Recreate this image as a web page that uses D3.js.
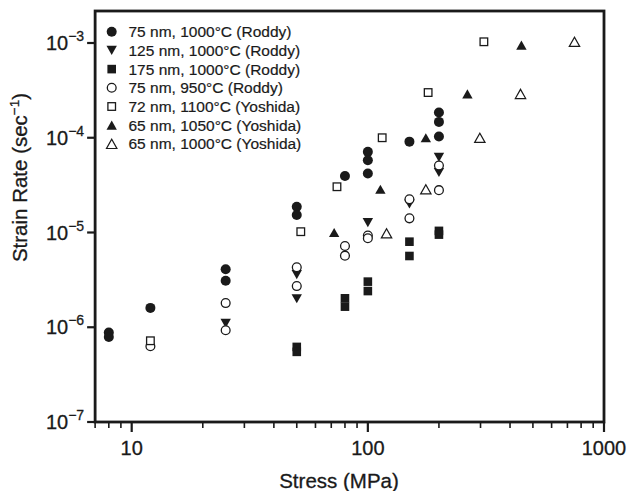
<!DOCTYPE html>
<html>
<head>
<meta charset="utf-8">
<script src="https://cdn.jsdelivr.net/npm/d3@7"></script>
<style>
  html, body { margin: 0; padding: 0; background: #fff; }
  svg { display: block; font-family: "Liberation Sans", Arial, sans-serif; }
</style>
</head>
<body>
<svg id="chart" width="628" height="491"></svg>
<script>
// Creep data: stress (MPa) vs. strain rate (1/s), log-log
const seriesLabels = [
  "75 nm, 1000°C (Roddy)",
  "125 nm, 1000°C (Roddy)",
  "175 nm, 1000°C (Roddy)",
  "75 nm, 950°C (Roddy)",
  "72 nm, 1100°C (Yoshida)",
  "65 nm, 1050°C (Yoshida)",
  "65 nm, 1000°C (Yoshida)"
];
const seriesSymbols = ["circleFilled", "downFilled", "squareFilled", "circleOpen", "squareOpen", "upFilled", "upOpen"];

const stress75_1000 = [8, 8, 12, 25, 25, 50, 50, 80, 100, 100, 100, 150, 200, 200, 200];
const rate75_1000 = [0.88e-6, 0.79e-6, 1.6e-6, 4.1e-6, 3.1e-6, 1.87e-5, 1.53e-5, 3.95e-5, 7.1e-5, 5.8e-5, 4.2e-5, 9.1e-5, 1.85e-4, 1.47e-4, 1.03e-4];

const stress125_1000 = [25, 50, 50, 100, 150, 200, 200];
const rate125_1000 = [1.1e-6, 3.6e-6, 2.0e-6, 1.27e-5, 2.0e-5, 6.2e-5, 4.3e-5];

const stress175_1000 = [50, 50, 80, 80, 100, 100, 150, 150, 200, 200];
const rate175_1000 = [0.62e-6, 0.55e-6, 2.02e-6, 1.65e-6, 3.03e-6, 2.41e-6, 8.0e-6, 5.65e-6, 1.04e-5, 0.95e-5];

const stress75_950 = [12, 25, 25, 50, 50, 80, 80, 100, 100, 150, 150, 200, 200];
const rate75_950 = [0.63e-6, 1.8e-6, 0.93e-6, 4.3e-6, 2.72e-6, 7.2e-6, 5.7e-6, 9.3e-6, 8.7e-6, 2.24e-5, 1.41e-5, 5.1e-5, 2.8e-5];

const stress72_1100 = [12, 52, 74, 115, 180, 310];
const rate72_1100 = [0.72e-6, 1.02e-5, 3.04e-5, 1.0e-4, 3.0e-4, 1.03e-3];

const stress65_1050 = [72, 113, 176, 264, 447];
const rate65_1050 = [1.0e-5, 2.86e-5, 1.0e-4, 2.9e-4, 9.5e-4];

const stress65_1000 = [120, 176, 298, 443, 750];
const rate65_1000 = [9.8e-6, 2.86e-5, 1.0e-4, 2.9e-4, 1.03e-3];

const xMajorTicks = [10, 100, 1000];
const xTickLabels = ["10", "100", "1000"];
const xMinorTicks = [7, 8, 9, 20, 30, 40, 50, 60, 70, 80, 90, 200, 300, 400, 500, 600, 700, 800, 900];
const yMajorTicks = [1e-7, 1e-6, 1e-5, 1e-4, 1e-3];
const yTickExponents = ["−7", "−6", "−5", "−4", "−3"];

const seriesStress = [stress75_1000, stress125_1000, stress175_1000, stress75_950, stress72_1100, stress65_1050, stress65_1000];
const seriesRate = [rate75_1000, rate125_1000, rate175_1000, rate75_950, rate72_1100, rate65_1050, rate65_1000];

const ink = "#1a1a1a";
const svg = d3.select("#chart");

const x = d3.scaleLog().domain([10, 1000]).range([131.7, 604]);
const y = d3.scaleLog().domain([1e-7, 1e-3]).range([422, 43]);

const frameLeft = x(7), frameRight = x(1000), frameBottom = y(1e-7), frameTop = 11;

// marker shapes, each centred on its bounding box
function drawSymbol(g, kind, cx, cy) {
  if (kind === "circleFilled") {
    g.append("circle").attr("cx", cx).attr("cy", cy).attr("r", 5).attr("fill", ink);
  } else if (kind === "circleOpen") {
    g.append("circle").attr("cx", cx).attr("cy", cy).attr("r", 4.4)
      .attr("fill", "#fff").attr("stroke", ink).attr("stroke-width", 1.3);
  } else if (kind === "squareFilled") {
    g.append("rect").attr("x", cx - 4.3).attr("y", cy - 4.3).attr("width", 8.6).attr("height", 8.6).attr("fill", ink);
  } else if (kind === "squareOpen") {
    g.append("rect").attr("x", cx - 3.8).attr("y", cy - 3.8).attr("width", 7.6).attr("height", 7.6)
      .attr("fill", "#fff").attr("stroke", ink).attr("stroke-width", 1.3);
  } else {
    const w = 5.2, h = 4.6;
    const pts = kind === "downFilled"
      ? [[cx - w, cy - h], [cx + w, cy - h], [cx, cy + h]]
      : [[cx - w, cy + h], [cx + w, cy + h], [cx, cy - h]];
    const p = g.append("path").attr("d", "M" + pts.map(q => q.join(",")).join("L") + "Z");
    if (kind === "upOpen") {
      p.attr("fill", "#fff").attr("stroke", ink).attr("stroke-width", 1.2).attr("stroke-linejoin", "miter");
    } else {
      p.attr("fill", ink);
    }
  }
}

// frame
svg.append("rect")
  .attr("x", frameLeft).attr("y", frameTop)
  .attr("width", frameRight - frameLeft).attr("height", frameBottom - frameTop)
  .attr("fill", "none").attr("stroke", ink).attr("stroke-width", 2.8);

// x ticks
const xt = svg.append("g");
xMinorTicks.forEach(v => {
  xt.append("line").attr("x1", x(v)).attr("x2", x(v)).attr("y1", frameBottom).attr("y2", frameBottom + 6)
    .attr("stroke", ink).attr("stroke-width", 1.6);
});
xMajorTicks.forEach((v, i) => {
  xt.append("line").attr("x1", x(v)).attr("x2", x(v)).attr("y1", frameBottom).attr("y2", frameBottom + 10)
    .attr("stroke", ink).attr("stroke-width", 2.2);
  xt.append("text").attr("x", x(v)).attr("y", frameBottom + 33)
    .attr("text-anchor", "middle").attr("font-size", 20).attr("fill", ink)
    .attr("stroke", ink).attr("stroke-width", 0.3).text(xTickLabels[i]);
});

// y ticks
const yt = svg.append("g");
yMajorTicks.forEach((v, i) => {
  yt.append("line").attr("x1", frameLeft - 8).attr("x2", frameLeft).attr("y1", y(v)).attr("y2", y(v))
    .attr("stroke", ink).attr("stroke-width", 2.2);
  const t = yt.append("text").attr("x", frameLeft - 11).attr("y", y(v) + 7)
    .attr("text-anchor", "end").attr("font-size", 20).attr("fill", ink)
    .attr("stroke", ink).attr("stroke-width", 0.3);
  t.append("tspan").text("10");
  t.append("tspan").attr("font-size", 14).attr("dy", -9).text(yTickExponents[i]);
});

// axis titles
svg.append("text").attr("x", 339).attr("y", 488)
  .attr("text-anchor", "middle").attr("font-size", 20.5).attr("fill", ink)
  .attr("stroke", ink).attr("stroke-width", 0.3).text("Stress (MPa)");

const yTitle = svg.append("text")
  .attr("transform", "translate(26.5,177.5) rotate(-90)")
  .attr("text-anchor", "middle").attr("font-size", 20.5).attr("fill", ink)
  .attr("stroke", ink).attr("stroke-width", 0.3);
yTitle.append("tspan").text("Strain Rate (sec");
yTitle.append("tspan").attr("font-size", 13.5).attr("dy", -8).text("−1");
yTitle.append("tspan").attr("dy", 8).text(")");

// data points
const marks = svg.append("g");
seriesStress.forEach((xs, s) => {
  xs.forEach((v, i) => drawSymbol(marks, seriesSymbols[s], x(v), y(seriesRate[s][i])));
});

// legend
const legend = svg.append("g");
seriesLabels.forEach((lab, i) => {
  const ly = 31.7 + i * 18.7;
  drawSymbol(legend, seriesSymbols[i], 111.7, ly);
  legend.append("text").attr("x", 128.5).attr("y", ly + 5.4)
    .attr("font-size", 15.5).attr("fill", ink)
    .attr("stroke", ink).attr("stroke-width", 0.2).text(lab);
});
</script>
</body>
</html>
